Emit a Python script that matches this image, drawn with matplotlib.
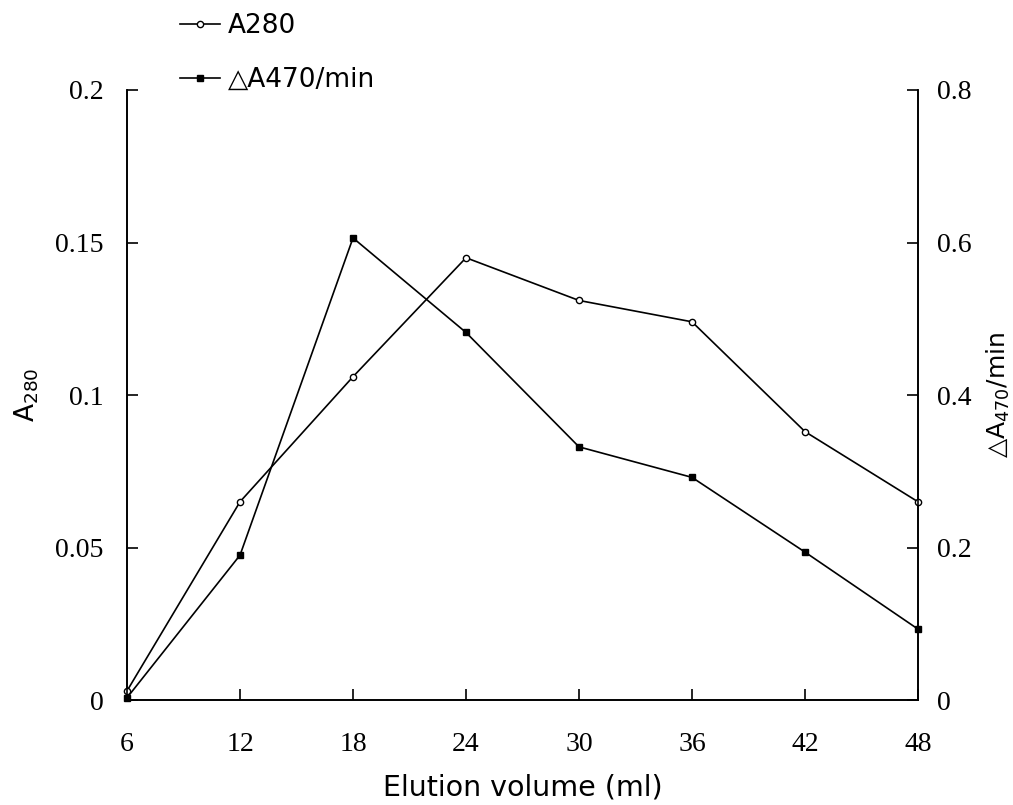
import matplotlib
matplotlib.use("Agg")
from matplotlib import pyplot as plt

# elution volume (ml)
volume = [6, 12, 18, 24, 30, 36, 42, 48]
a280 = [0.003, 0.065, 0.106, 0.145, 0.131, 0.124, 0.088, 0.065]
da470 = [0.003, 0.19, 0.606, 0.482, 0.332, 0.292, 0.194, 0.093]

left_ticks = [0, 0.05, 0.1, 0.15, 0.2]
left_labels = ["0", "0.05", "0.1", "0.15", "0.2"]
right_ticks = [0, 0.2, 0.4, 0.6, 0.8]
right_labels = ["0", "0.2", "0.4", "0.6", "0.8"]

serif = "Liberation Serif"
sans = "DejaVu Sans"

fig = plt.figure(figsize=(10.13, 8.05), dpi=100)
ax = fig.add_axes([0.1254, 0.1304, 0.7808, 0.7578])
ax2 = ax.twinx()

l1, = ax.plot(volume, a280, color="black", lw=1.2, marker="o", ms=4.5,
              mfc="white", mec="black", mew=1.0, label="A280", clip_on=False, zorder=3)
l2, = ax2.plot(volume, da470, color="black", lw=1.2, marker="s", ms=5,
               mfc="black", mec="black", label="\u25b3A470/min", clip_on=False, zorder=3)

ax.set_xlim(6, 48)
ax.set_ylim(0, 0.2)
ax2.set_ylim(0, 0.8)
ax.set_xticks(volume)
ax.set_xticklabels([str(v) for v in volume], fontfamily=serif, fontsize=20)
ax.set_yticks(left_ticks)
ax.set_yticklabels(left_labels, fontfamily=serif, fontsize=20)
ax2.set_yticks(right_ticks)
ax2.set_yticklabels(right_labels, fontfamily=serif, fontsize=20)

for a in (ax, ax2):
    a.spines["top"].set_visible(False)
    for s in a.spines.values():
        s.set_linewidth(1.2)
    a.tick_params(direction="in", length=8, width=1.2)
ax.tick_params(axis="y", pad=17)
ax2.tick_params(axis="y", pad=14)
ax.tick_params(axis="x", pad=23)

ax.set_xlabel("Elution volume (ml)", fontfamily=sans, fontsize=20.5, labelpad=12)
ax.set_ylabel("A$_{\\mathregular{280}}$", fontfamily=sans, fontsize=19, labelpad=10)
ax2.set_ylabel("\u25b3A$_{\\mathregular{470}}$/min", fontfamily=sans, fontsize=18, labelpad=9)

fig.legend(handles=[l1, l2], loc="upper left", bbox_to_anchor=(0.165, 1.0),
           frameon=False, prop={"family": sans, "size": 19}, handlelength=1.5,
           handletextpad=0.3, labelspacing=1.05, borderaxespad=0.1)

fig.savefig("out.png", dpi=100)
